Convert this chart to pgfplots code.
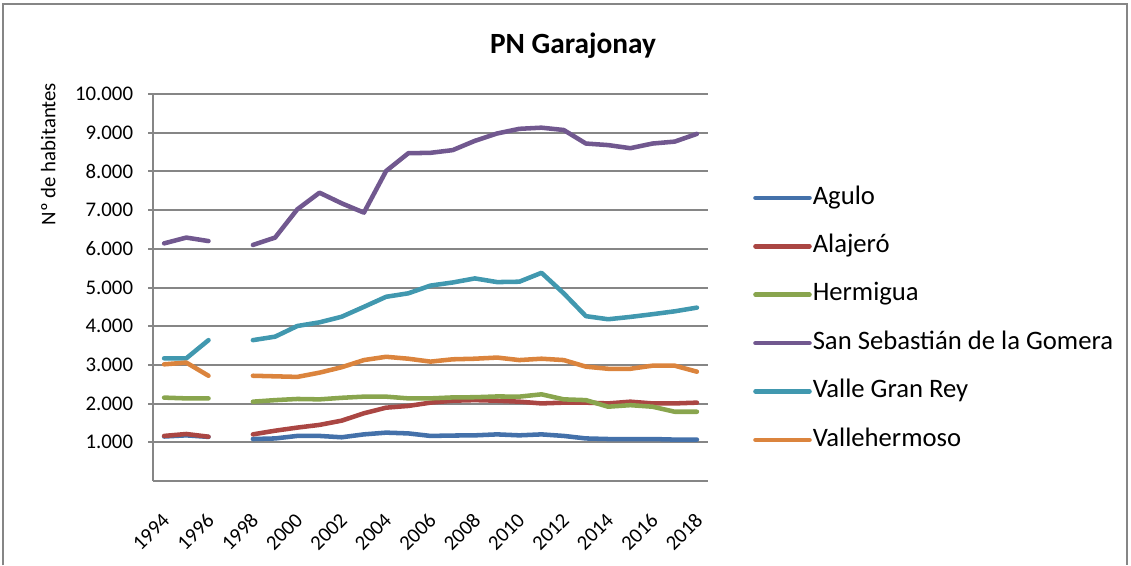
\documentclass[border=0pt]{standalone}
\usepackage{fontspec}
\setmainfont{Carlito}
\usepackage{pgfplots}
\pgfplotsset{compat=1.18}
\usepackage{pgfplotstable}

\definecolor{cAgulo}{HTML}{4471AA}
\definecolor{cAlajero}{HTML}{AA4643}
\definecolor{cHermigua}{HTML}{89A54E}
\definecolor{cSanSeb}{HTML}{71588F}
\definecolor{cValle}{HTML}{4198AF}
\definecolor{cVallehermoso}{HTML}{DB843D}
\definecolor{axisgray}{HTML}{868686}

\pgfplotstableread{
year Agulo Alajero Hermigua SanSeb Valle Vallehermoso
1994 1150 1165 2155 6140 3170 3015
1995 1180 1215 2135 6290 3170 3060
1996 1140 1145 2135 6200 3640 2720
1997 nan nan nan nan nan nan
1998 1085 1205 2050 6100 3640 2720
1999 1100 1300 2090 6290 3730 2705
2000 1165 1380 2120 7020 4005 2690
2001 1165 1450 2110 7450 4100 2800
2002 1130 1560 2150 7175 4245 2940
2003 1205 1750 2180 6935 4500 3125
2004 1250 1895 2180 8010 4760 3210
2005 1230 1940 2135 8470 4850 3160
2006 1165 2025 2135 8480 5050 3085
2007 1175 2075 2160 8550 5130 3145
2008 1180 2090 2165 8790 5235 3160
2009 1205 2075 2185 8980 5140 3190
2010 1180 2050 2180 9100 5150 3125
2011 1205 2005 2240 9130 5380 3160
2012 1165 2025 2110 9070 4850 3125
2013 1100 2025 2090 8720 4260 2955
2014 1085 2005 1920 8680 4180 2900
2015 1085 2050 1960 8600 4240 2900
2016 1085 2005 1920 8720 4310 2980
2017 1070 2005 1790 8770 4385 2980
2018 1070 2025 1790 8970 4480 2825
}\data

\begin{document}
\begin{tikzpicture}
\useasboundingbox (0,0) rectangle (848.25pt,-423.75pt);
\draw[color=axisgray, line width=1.5pt] (2.25pt,-424pt) -- (2.25pt,-3pt) -- (845.25pt,-3pt) -- (845.25pt,-424pt);
\node[font=\fontsize{22}{26}\selectfont\bfseries] at (429.75pt,-34.5pt) {PN Garajonay};
\begin{axis}[
  at={(114.75pt,-360.75pt)}, anchor=south west,
  scale only axis, width=416.25pt, height=290.25pt,
  xmin=1993.5, xmax=2018.5, ymin=0, ymax=10000,
  axis x line*=bottom, axis y line*=left,
  axis line style={draw=axisgray, line width=1.5pt},
  ytick={1000,2000,...,10000},
  ymajorgrids, grid style={draw=axisgray, line width=1.5pt},
  xtick={1994,1996,...,2018},
  xticklabels={1994,1996,1998,2000,2002,2004,2006,2008,2010,2012,2014,2016,2018},
  xtick style={draw=none},
  ytick style={draw=axisgray, line width=1.5pt},
  tick align=outside, major tick length=3.75pt,
  scaled y ticks=false,
  /pgf/number format/assume math mode=true,
  tick label style={font=\fontsize{15.6}{18}\selectfont},
  yticklabel={\pgfmathprintnumber[fixed, precision=0, 1000 sep={.}]{\tick}},
  yticklabel style={anchor=east, inner sep=0pt, xshift=-11pt},
  xticklabel style={xshift=1.5pt, yshift=-23pt, rotate=45, anchor=east, inner sep=0pt},
  ylabel={Nº de habitantes},
  ylabel style={at={(axis description cs:-0.189,0.845)}, anchor=center, font=\fontsize{15.6}{18}\selectfont},
  unbounded coords=jump,
  every axis plot/.append style={line width=3.4pt, line cap=round, line join=round, mark=none},
  legend style={at={(axis description cs:1.081,0.766)}, anchor=north west, draw=none, fill=none,
    font=\fontsize{20}{24}\selectfont, inner sep=0pt, row sep=16.8pt, column sep=0.75pt,
    nodes={inner sep=0pt, text height=14.5pt, text depth=5pt}},
  legend cell align=left,
  legend image code/.code={\draw[#1, line width=3.4pt, line cap=round] (0pt,0pt) -- (40.5pt,0pt);},
]
\addplot[color=cAgulo] table[x=year, y=Agulo] {\data};
\addlegendentry{Agulo}
\addplot[color=cAlajero] table[x=year, y=Alajero] {\data};
\addlegendentry{Alajeró}
\addplot[color=cHermigua] table[x=year, y=Hermigua] {\data};
\addlegendentry{Hermigua}
\addplot[color=cSanSeb] table[x=year, y=SanSeb] {\data};
\addlegendentry{San Sebastián de la Gomera}
\addplot[color=cValle] table[x=year, y=Valle] {\data};
\addlegendentry{Valle Gran Rey}
\addplot[color=cVallehermoso] table[x=year, y=Vallehermoso] {\data};
\addlegendentry{Vallehermoso}
\end{axis}
\end{tikzpicture}
\end{document}
